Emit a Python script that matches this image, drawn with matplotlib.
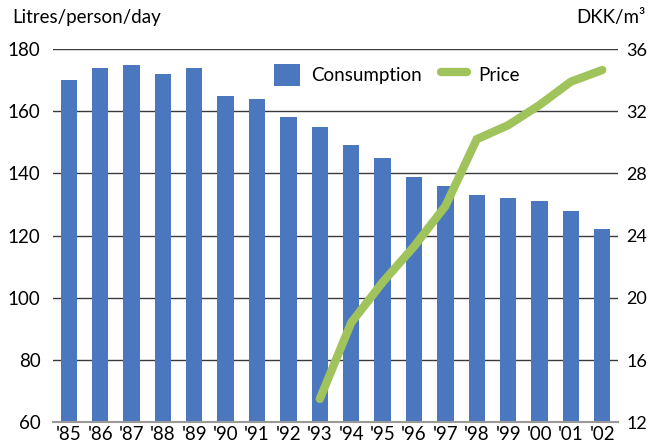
import matplotlib.pyplot as plt
from matplotlib.patches import Patch
from matplotlib.lines import Line2D

plt.rcParams['font.family'] = ['Lato', 'DejaVu Sans']

years = ["'85", "'86", "'87", "'88", "'89", "'90", "'91", "'92", "'93",
         "'94", "'95", "'96", "'97", "'98", "'99", "'00", "'01", "'02"]
consumption = [170, 174, 175, 172, 174, 165, 164, 158, 155,
               149, 145, 139, 136, 133, 132, 131, 128, 122]
price_years = years[8:]
price = [13.5, 18.4, 21.0, 23.3, 25.9, 30.2, 31.1, 32.4, 33.9, 34.65]

blue = '#4a77bd'
green = '#a0c35c'

fig = plt.figure(figsize=(6.48, 4.46), dpi=100)
ax = fig.add_axes([53 / 648, 1 - 422.3 / 446, 565 / 648, (422.3 - 49) / 446])

x = list(range(len(years)))
ax.bar(x, consumption, width=0.52, color=blue, zorder=2)
ax.set_xlim(-0.5, len(years) - 0.5)
ax.set_ylim(60, 180)
ax.set_yticks(range(60, 181, 20))
ax.set_xticks(x)
ax.set_xticklabels(years)
ax.set_axisbelow(True)
for v in range(80, 181, 20):
    ax.axhline(v, color='#3a3a3a', lw=1.0, zorder=0)
for s in ['top', 'left', 'right']:
    ax.spines[s].set_visible(False)
ax.spines['bottom'].set_color('#999999')
ax.spines['bottom'].set_linewidth(1.5)
ax.tick_params(axis='both', length=0, labelsize=13.5, colors='black')
ax.tick_params(axis='y', pad=9)
ax.tick_params(axis='x', pad=3)

ax2 = ax.twinx()
px = [years.index(y) for y in price_years]
ax2.plot(px, price, color=green, lw=6, solid_capstyle='round',
         solid_joinstyle='miter', zorder=3)
ax2.set_ylim(12, 36)
ax2.set_yticks(range(12, 37, 4))
for s in ['top', 'left', 'right', 'bottom']:
    ax2.spines[s].set_visible(False)
ax2.tick_params(axis='y', length=0, labelsize=13, pad=6)

fig.text(12 / 648, 1 - 18 / 446, 'Litres/person/day', fontsize=13.5, va='center', ha='left')
fig.text(645 / 648, 1 - 18 / 446, 'DKK/m³', fontsize=13.5, va='center', ha='right')

handles = [Patch(facecolor=blue), Line2D([0], [0], color=green, lw=6, solid_capstyle='round')]
ax2.legend(handles, ['Consumption', 'Price'], loc='center', bbox_to_anchor=(397 / 648, 1 - 75 / 446),
           bbox_transform=fig.transFigure, ncol=2, frameon=False, fontsize=13.5,
           handlelength=1.4, handleheight=1.5, columnspacing=1.0, handletextpad=0.6)

fig.savefig('out.png', dpi=100)
